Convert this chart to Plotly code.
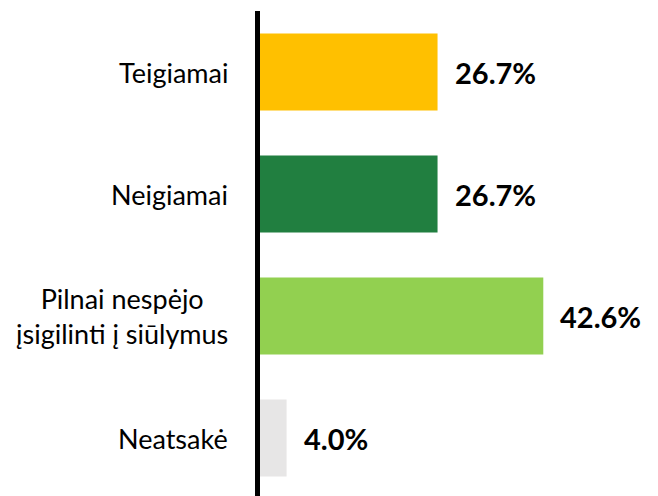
import plotly.graph_objects as go

categories = ["Teigiamai", "Neigiamai", "Pilnai nespėjo<br>įsigilinti į siūlymus", "Neatsakė"]
values = [26.7, 26.7, 42.6, 4.0]
value_labels = ["26.7%", "26.7%", "42.6%", "4.0%"]
colors = ["#FFC000", "#217F40", "#92D050", "#E7E6E6"]

FONT = "Lato, Carlito, Calibri, sans-serif"

fig = go.Figure()
fig.add_trace(go.Bar(
    x=values, y=categories, orientation="h",
    marker=dict(color=colors, line=dict(width=0)),
    hoverinfo="skip",
))

for c, v, lab in zip(categories, values, value_labels):
    fig.add_annotation(x=v, y=c, text="<b>" + lab + "</b>", showarrow=False,
                       xanchor="left", yanchor="middle", xshift=15,
                       font=dict(family=FONT, size=29, color="#000000"))
    fig.add_annotation(x=0, y=c, text=c, showarrow=False, align="center",
                       xanchor="right", yanchor="middle", xshift=-30,
                       font=dict(family=FONT, size=27, color="#000000"))

fig.update_layout(
    width=650, height=488,
    margin=dict(l=252, r=0, t=3, b=0),
    paper_bgcolor="white", plot_bgcolor="white",
    bargap=0.37,
    showlegend=False,
    xaxis=dict(range=[0, 59.85], visible=False, fixedrange=True),
    yaxis=dict(
        categoryorder="array", categoryarray=categories,
        range=[3.475, -0.5],
        showline=True, linecolor="#000000", linewidth=5,
        showgrid=False, zeroline=False, ticks="",
        showticklabels=False,
        fixedrange=True,
    ),
)

fig.write_html("out.html")
